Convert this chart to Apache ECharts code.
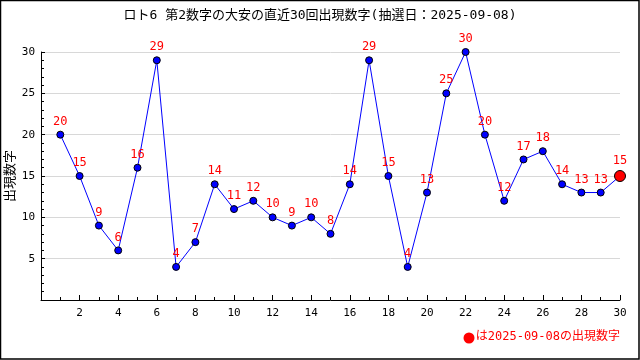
<!DOCTYPE html>
<html><head><meta charset="utf-8">
<script src="https://cdn.jsdelivr.net/npm/echarts@6/dist/echarts.min.js"></script>
<style>html,body{margin:0;padding:0;background:#fff}#c{width:640px;height:360px}</style>
</head><body><div id="c"></div>
<script>
const titleText = 'ロト6 第2数字の大安の直近30回出現数字(抽選日：2025-09-08)';
const noteText = 'は2025-09-08の出現数字';
const yName = '出現数字';
const draws = [1,2,3,4,5,6,7,8,9,10,11,12,13,14,15,16,17,18,19,20,21,22,23,24,25,26,27,28,29,30];
const values = [20,15,9,6,16,29,4,7,14,11,12,10,9,10,8,14,29,15,4,13,25,30,20,12,17,18,14,13,13,15];

const font = '"DejaVu Sans Mono","Noto Sans CJK JP",monospace';
const chart = echarts.init(document.getElementById('c'));
const pts = draws.map((d,i)=>{
  const last = i === draws.length-1;
  return {value:[d, values[i]],
    symbolSize: last ? 11 : 7,
    itemStyle: {color: last ? '#ff0000' : '#0000ff', borderColor:'#000', borderWidth:1}};
});
chart.setOption({
  animation:false,
  backgroundColor:'#fff',
  title:{text:titleText,left:'center',top:4,textStyle:{fontFamily:font,fontSize:13,fontWeight:'normal',color:'#000'}},
  grid:{left:41,right:20,top:52,bottom:60,outerBoundsMode:'none',containLabel:false},
  xAxis:{type:'value',min:0,max:30,interval:2,
    axisLine:{show:true,onZero:false,lineStyle:{color:'#000',width:1}},
    axisTick:{show:true,inside:true,length:5,lineStyle:{color:'#000'}},
    minorTick:{show:true,splitNumber:2,length:3,lineStyle:{color:'#000'}},
    splitLine:{show:false},
    axisLabel:{fontFamily:font,fontSize:11,color:'#000',margin:8,formatter:v=>v===0?'':String(v)}},
  yAxis:{type:'value',min:0,max:30,interval:5,
    axisLine:{show:true,lineStyle:{color:'#000',width:1}},
    axisTick:{show:true,inside:true,length:4,lineStyle:{color:'#000'}},
    minorTick:{show:true,splitNumber:5,length:3,lineStyle:{color:'#000'}},
    splitLine:{show:true,lineStyle:{color:'#d8d8d8',width:1}},
    axisLabel:{fontFamily:font,fontSize:11,color:'#000',margin:6,formatter:v=>v===0?'':String(v)}},
  series:[{type:'line',data:pts,symbol:'circle',
    lineStyle:{color:'#0000ff',width:1},
    label:{show:true,position:'top',distance:3,color:'#ff0000',fontFamily:font,fontSize:12,formatter:p=>p.value[1]}}],
  graphic:[
    {type:'rect',shape:{x:0.5,y:0.5,width:638.5,height:358.5},style:{fill:'none',stroke:'#000',lineWidth:1.5},silent:true},
    {type:'text',x:11,y:176,rotation:Math.PI/2,style:{text:yName,fill:'#000',font:'13px '+font,align:'center',verticalAlign:'middle'},silent:true},
    {type:'circle',shape:{cx:469,cy:338,r:5.5},style:{fill:'#ff0000'},silent:true},
    {type:'text',right:20,top:331,style:{text:noteText,fill:'#ff0000',font:'12px '+font}}
  ]
});
</script></body></html>
